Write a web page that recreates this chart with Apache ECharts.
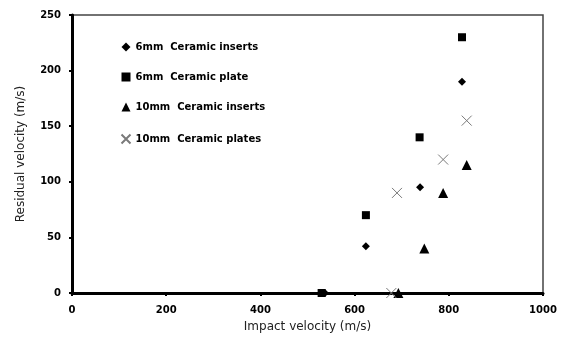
<!DOCTYPE html>
<html>
<head>
<meta charset="utf-8">
<script src="https://cdn.jsdelivr.net/npm/echarts@6/dist/echarts.min.js"></script>
<style>
  html, body { margin: 0; padding: 0; background: #fff; }
  #main { width: 562px; height: 338px; }
</style>
</head>
<body>
<div id="main"></div>
<script>
// data: [impact velocity, residual velocity]
var seriesNames = ['6mm  Ceramic inserts', '6mm  Ceramic plate', '10mm  Ceramic inserts', '10mm  Ceramic plates'];
var ins6 = [[537, 0], [624, 42], [739, 95], [828, 190]];
var plate6 = [[530, 0], [624, 70], [738, 140], [828, 230]];
var ins10 = [[693, 0], [748, 40], [788, 90], [838, 115]];
var plate10 = [[678, 0], [690, 90], [788, 120], [838, 155]];

var xName = 'Impact velocity (m/s)';
var yName = 'Residual velocity (m/s)';

var myChart = echarts.init(document.getElementById('main'));

var tickFont = { color: '#000', fontFamily: 'DejaVu Sans', fontWeight: 'bold', fontSize: 10 };

var option = {
  backgroundColor: '#fff',
  animation: false,
  grid: {
    left: 72, right: 19, top: 15, bottom: 45,
    show: true, borderColor: '#444', borderWidth: 1.5
  },
  legend: {
    orient: 'vertical',
    left: 114, top: 37,
    itemWidth: 9, itemHeight: 9, itemGap: 20,
    textStyle: { color: '#000', fontFamily: 'DejaVu Sans', fontWeight: 'bold', fontSize: 10 },
    data: seriesNames
  },
  xAxis: {
    type: 'value', min: 0, max: 1000, interval: 200,
    name: xName, nameLocation: 'middle', nameGap: 28,
    nameTextStyle: { color: '#222', fontFamily: 'DejaVu Sans', fontSize: 12 },
    axisLine: { lineStyle: { color: '#000', width: 3 } },
    axisTick: { show: true, length: 3, lineStyle: { color: '#000', width: 2 } },
    axisLabel: Object.assign({ margin: 12, formatter: function (v) { return String(v); } }, tickFont),
    splitLine: { show: false }
  },
  yAxis: {
    type: 'value', min: 0, max: 250, interval: 50,
    name: yName, nameLocation: 'middle', nameGap: 45,
    nameTextStyle: { color: '#222', fontFamily: 'DejaVu Sans', fontSize: 12 },
    axisLine: { show: true, lineStyle: { color: '#000', width: 3 } },
    axisTick: { show: true, length: 3, lineStyle: { color: '#000', width: 2 } },
    axisLabel: Object.assign({ margin: 11 }, tickFont),
    splitLine: { show: false }
  },
  series: [
    {
      name: seriesNames[0], type: 'scatter', data: ins6,
      symbol: 'diamond', symbolSize: 8,
      itemStyle: { color: '#000', opacity: 1 }
    },
    {
      name: seriesNames[1], type: 'scatter', data: plate6,
      symbol: 'rect', symbolSize: 8,
      itemStyle: { color: '#000', opacity: 1 }
    },
    {
      name: seriesNames[2], type: 'scatter', data: ins10,
      symbol: 'triangle', symbolSize: 10,
      itemStyle: { color: '#000', opacity: 1 }
    },
    {
      name: seriesNames[3], type: 'scatter', data: plate10,
      symbol: 'path://M0,0L10,10M10,0L0,10', symbolSize: 10,
      itemStyle: { color: 'none', borderColor: '#7a7a7a', borderWidth: 1, opacity: 1 }
    }
  ]
};

myChart.setOption(option);
</script>
</body>
</html>
